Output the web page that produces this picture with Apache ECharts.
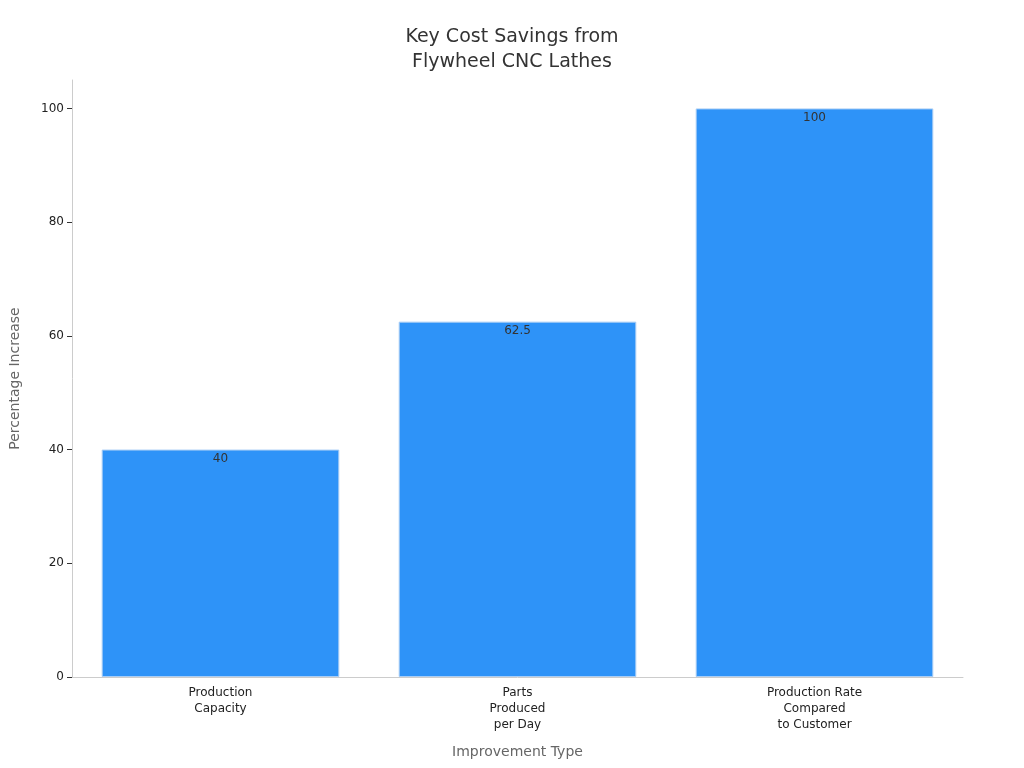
<!DOCTYPE html>
<html><head><meta charset="utf-8">
<script src="https://cdn.jsdelivr.net/npm/echarts@6/dist/echarts.min.js"></script>
<style>html,body{margin:0;padding:0;background:#fff}#c{width:1024px;height:768px}</style>
</head><body><div id="c"></div>
<script>
const categories = ["Production\nCapacity", "Parts\nProduced\nper Day", "Production Rate\nCompared\nto Customer"];
const values = [40, 62.5, 100];
const yTicks = [0, 20, 40, 60, 80, 100];

const chart = echarts.init(document.getElementById('c'));
chart.setOption({
  backgroundColor: '#fff',
  textStyle: {fontFamily: 'DejaVu Sans'},
  title: {text: 'Key Cost Savings from\nFlywheel CNC Lathes', left: 'center', top: 20,
    textStyle: {fontSize: 19, fontWeight: 'normal', color: '#333', lineHeight: 25, fontFamily: 'DejaVu Sans'}},
  grid: {left: 68, right: 61, top: 80, bottom: 91},
  xAxis: {type: 'category', data: categories, name: 'Improvement Type', nameLocation: 'middle', nameGap: 68,
    nameTextStyle: {color: '#666', fontSize: 14},
    axisLine: {lineStyle: {color: '#ccc'}}, axisTick: {alignWithLabel: true, lineStyle: {color: '#333'}},
    axisLabel: {color: '#222', fontSize: 12, lineHeight: 16, interval: 0}},
  yAxis: {type: 'value', min: 0, max: 105, interval: 20, name: 'Percentage Increase', nameLocation: 'middle', nameGap: 50,
    nameTextStyle: {color: '#666', fontSize: 14},
    axisLine: {show: true, lineStyle: {color: '#ccc'}}, axisTick: {show: true, lineStyle: {color: '#333'}},
    axisLabel: {color: '#222', fontSize: 12, showMaxLabel: false,
      formatter: v => yTicks.includes(v) ? String(v) : ''},
    splitLine: {show: false}},
  series: [{type: 'bar', data: values, barWidth: '80%',
    itemStyle: {color: '#2e93f8', borderColor: '#a9cdf5', borderWidth: 1},
    label: {show: true, position: 'insideTop', color: '#333', fontSize: 12, offset: [0, -2]}}]
});
</script></body></html>
